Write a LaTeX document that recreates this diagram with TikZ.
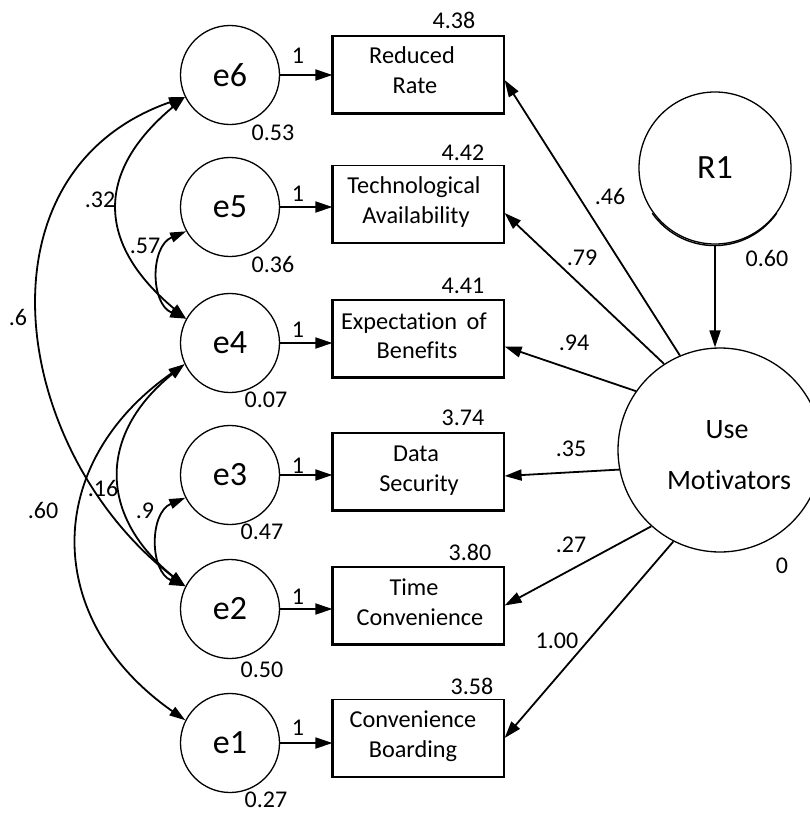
\documentclass[tikz,border=0pt]{standalone}
\usepackage{fontspec}
\setmainfont{Carlito}[Ligatures=NoCommon]
\usetikzlibrary{arrows.meta}
\begin{document}
\begin{tikzpicture}[x=1pt,y=-1pt,
  ecirc/.style={circle,draw,line width=1.3pt,minimum size=99pt,inner sep=0pt,font=\fontsize{34}{40}\selectfont},
  obsbox/.style={draw,line width=1.2pt,minimum width=171pt,minimum height=77pt,inner sep=0pt},
  boxshade/.style={line width=2.4pt},
  btxt/.style={font=\fontsize{24.3}{30}\selectfont,anchor=base,inner sep=0pt},
  lab/.style={font=\fontsize{24}{28}\selectfont,inner sep=0pt},
  arr/.style={-{Triangle[length=17pt,width=11pt]},line width=1.8pt},
  cov/.style={{Triangle[length=16pt,width=10pt]}-{Triangle[length=16pt,width=10pt]},line width=1.8pt},
]
\useasboundingbox (0,0) rectangle (810,814);

% error circles
\node[ecirc] (e6) at (230,75) {e6};
\node[ecirc] (e5) at (230,207) {e5};
\node[ecirc] (e4) at (230,343) {e4};
\node[ecirc] (e3) at (230,475) {e3};
\node[ecirc] (e2) at (230,609) {e2};
\node[ecirc] (e1) at (230,743) {e1};

% observed boxes
\node[obsbox] (b6) at (418.5,74.5) {};
\node[obsbox] (b5) at (418.5,204) {};
\node[obsbox] (b4) at (418.5,338.5) {};
\node[obsbox] (b3) at (418.5,471.5) {};
\node[obsbox] (b2) at (418.5,605.5) {};
\node[obsbox] (b1) at (418.5,738) {};
\foreach \b in {b6,b5,b4,b3,b2,b1}{
  \draw[boxshade] (\b.north west) -- (\b.south west) -- (\b.south east);
}

\node[btxt] (b6a) at (412,63) {Reduced};
\node[btxt] (b6b) at (415,93) {Rate};
\node[btxt] (b5a) at (414,193) {Technological};
\node[btxt] (b5b) at (416,223) {Availability};
\node[btxt] (b4a) at (414,329) {Expectation\ \,of};
\node[btxt] (b4b) at (417,358) {Benefits};
\node[btxt] (b3a) at (416,461) {Data};
\node[btxt] (b3b) at (419,491) {Security};
\node[btxt] (b2a) at (414,595) {Time};
\node[btxt] (b2b) at (420,625) {Convenience};
\node[btxt] (b1a) at (413,727.5) {Convenience};
\node[btxt] (b1b) at (413,757.5) {Boarding};

% intercepts
\node[lab] (m6) at (454,20) {4.38};
\node[lab] (m5) at (463,153) {4.42};
\node[lab] (m4) at (463,286) {4.41};
\node[lab] (m3) at (463,418) {3.74};
\node[lab] (m2) at (470,552) {3.80};
\node[lab] (m1) at (472,686) {3.58};

% variances
\node[lab] (v6) at (273,133) {0.53};
\node[lab] (v5) at (273,264) {0.36};
\node[lab] (v4) at (266,400) {0.07};
\node[lab] (v3) at (262,532) {0.47};
\node[lab] (v2) at (262,670) {0.50};
\node[lab] (v1) at (266,800) {0.27};

% error -> box
\draw[arr] (e6.east) -- (e6.east -| b6.west);
\draw[arr] (e5.east) -- (e5.east -| b5.west);
\draw[arr] (e4.east) -- (e4.east -| b4.west);
\draw[arr] (e3.east) -- (e3.east -| b3.west);
\draw[arr] (e2.east) -- (e2.east -| b2.west);
\draw[arr] (e1.east) -- (e1.east -| b1.west);
\node[lab] (o6) at (298,56) {1};
\node[lab] (o5) at (298,194) {1};
\node[lab] (o4) at (298,330) {1};
\node[lab] (o3) at (298,466) {1};
\node[lab] (o2) at (298,597) {1};
\node[lab] (o1) at (298,728) {1};

% latent
\node[circle,draw,line width=1.3pt,minimum size=152pt,inner sep=0pt,font=\fontsize{34}{40}\selectfont] (r1) at (715,168) {R1};
\draw[line width=1.4pt] ([yshift=-1.2pt]r1.215) arc[start angle=215,end angle=325,radius=76pt];
\node[circle,draw,line width=1.3pt,minimum size=204pt,inner sep=0pt] (um) at (720,450) {};
\node[font=\fontsize{28}{34}\selectfont,inner sep=0pt] (umt1) at (727,430) {Use};
\node[font=\fontsize{28}{34}\selectfont,inner sep=0pt] (umt2) at (729,480) {Motivators};
\node[lab] (r1v) at (767,258) {0.60};
\node[lab] (umv) at (782,566) {0};

\draw[arr] (r1.south) -- (r1.south |- um.north);

% loadings
\draw[arr] (um.113) -- ([yshift=-5.5pt]b6.east);
\draw[arr] (um.123) -- ([yshift=-9pt]b5.east);
\draw[arr] (um.145) -- ([yshift=-8pt]b4.east);
\draw[arr] (um.191) -- ([yshift=-4.5pt]b3.east);
\draw[arr] (um.228) -- (b2.east);
\draw[arr] (um.243) -- (b1.east);
\node[lab] (l6) at (610,196) {.46};
\node[lab] (l5) at (582,258) {.79};
\node[lab] (l4) at (574,343) {.94};
\node[lab] (l3) at (571,449) {.35};
\node[lab] (l2) at (571,545) {.27};
\node[lab] (l1) at (557,641) {1.00};

% covariances
\draw[cov] (e6.206) .. controls +(-90,75) and +(-90,-75) .. (e4.151);
\draw[cov] (e5.209) .. controls +(-36,15) and +(-36,-15) .. (e4.151);
\draw[cov] (e6.206) .. controls +(-215,75) and +(-175,-135) .. (e2.153);
\draw[cov] (e4.205) .. controls +(-87,70) and +(-87,-70) .. (e2.153);
\draw[cov] (e3.207) .. controls +(-36,15) and +(-36,-15) .. (e2.153);
\draw[cov] (e4.205) .. controls +(-143,100) and +(-143,-100) .. (e1.153);
\node[lab] (c64) at (100,200) {.32};
\node[lab] (c54) at (145,246) {.57};
\node[lab] (c62) at (18,317) {.6};
\node[lab] (c42) at (103,488) {.16};
\node[lab] (c41) at (43,510) {.60};
\node[lab] (c32) at (145,511) {.9};
\end{tikzpicture}
\end{document}
